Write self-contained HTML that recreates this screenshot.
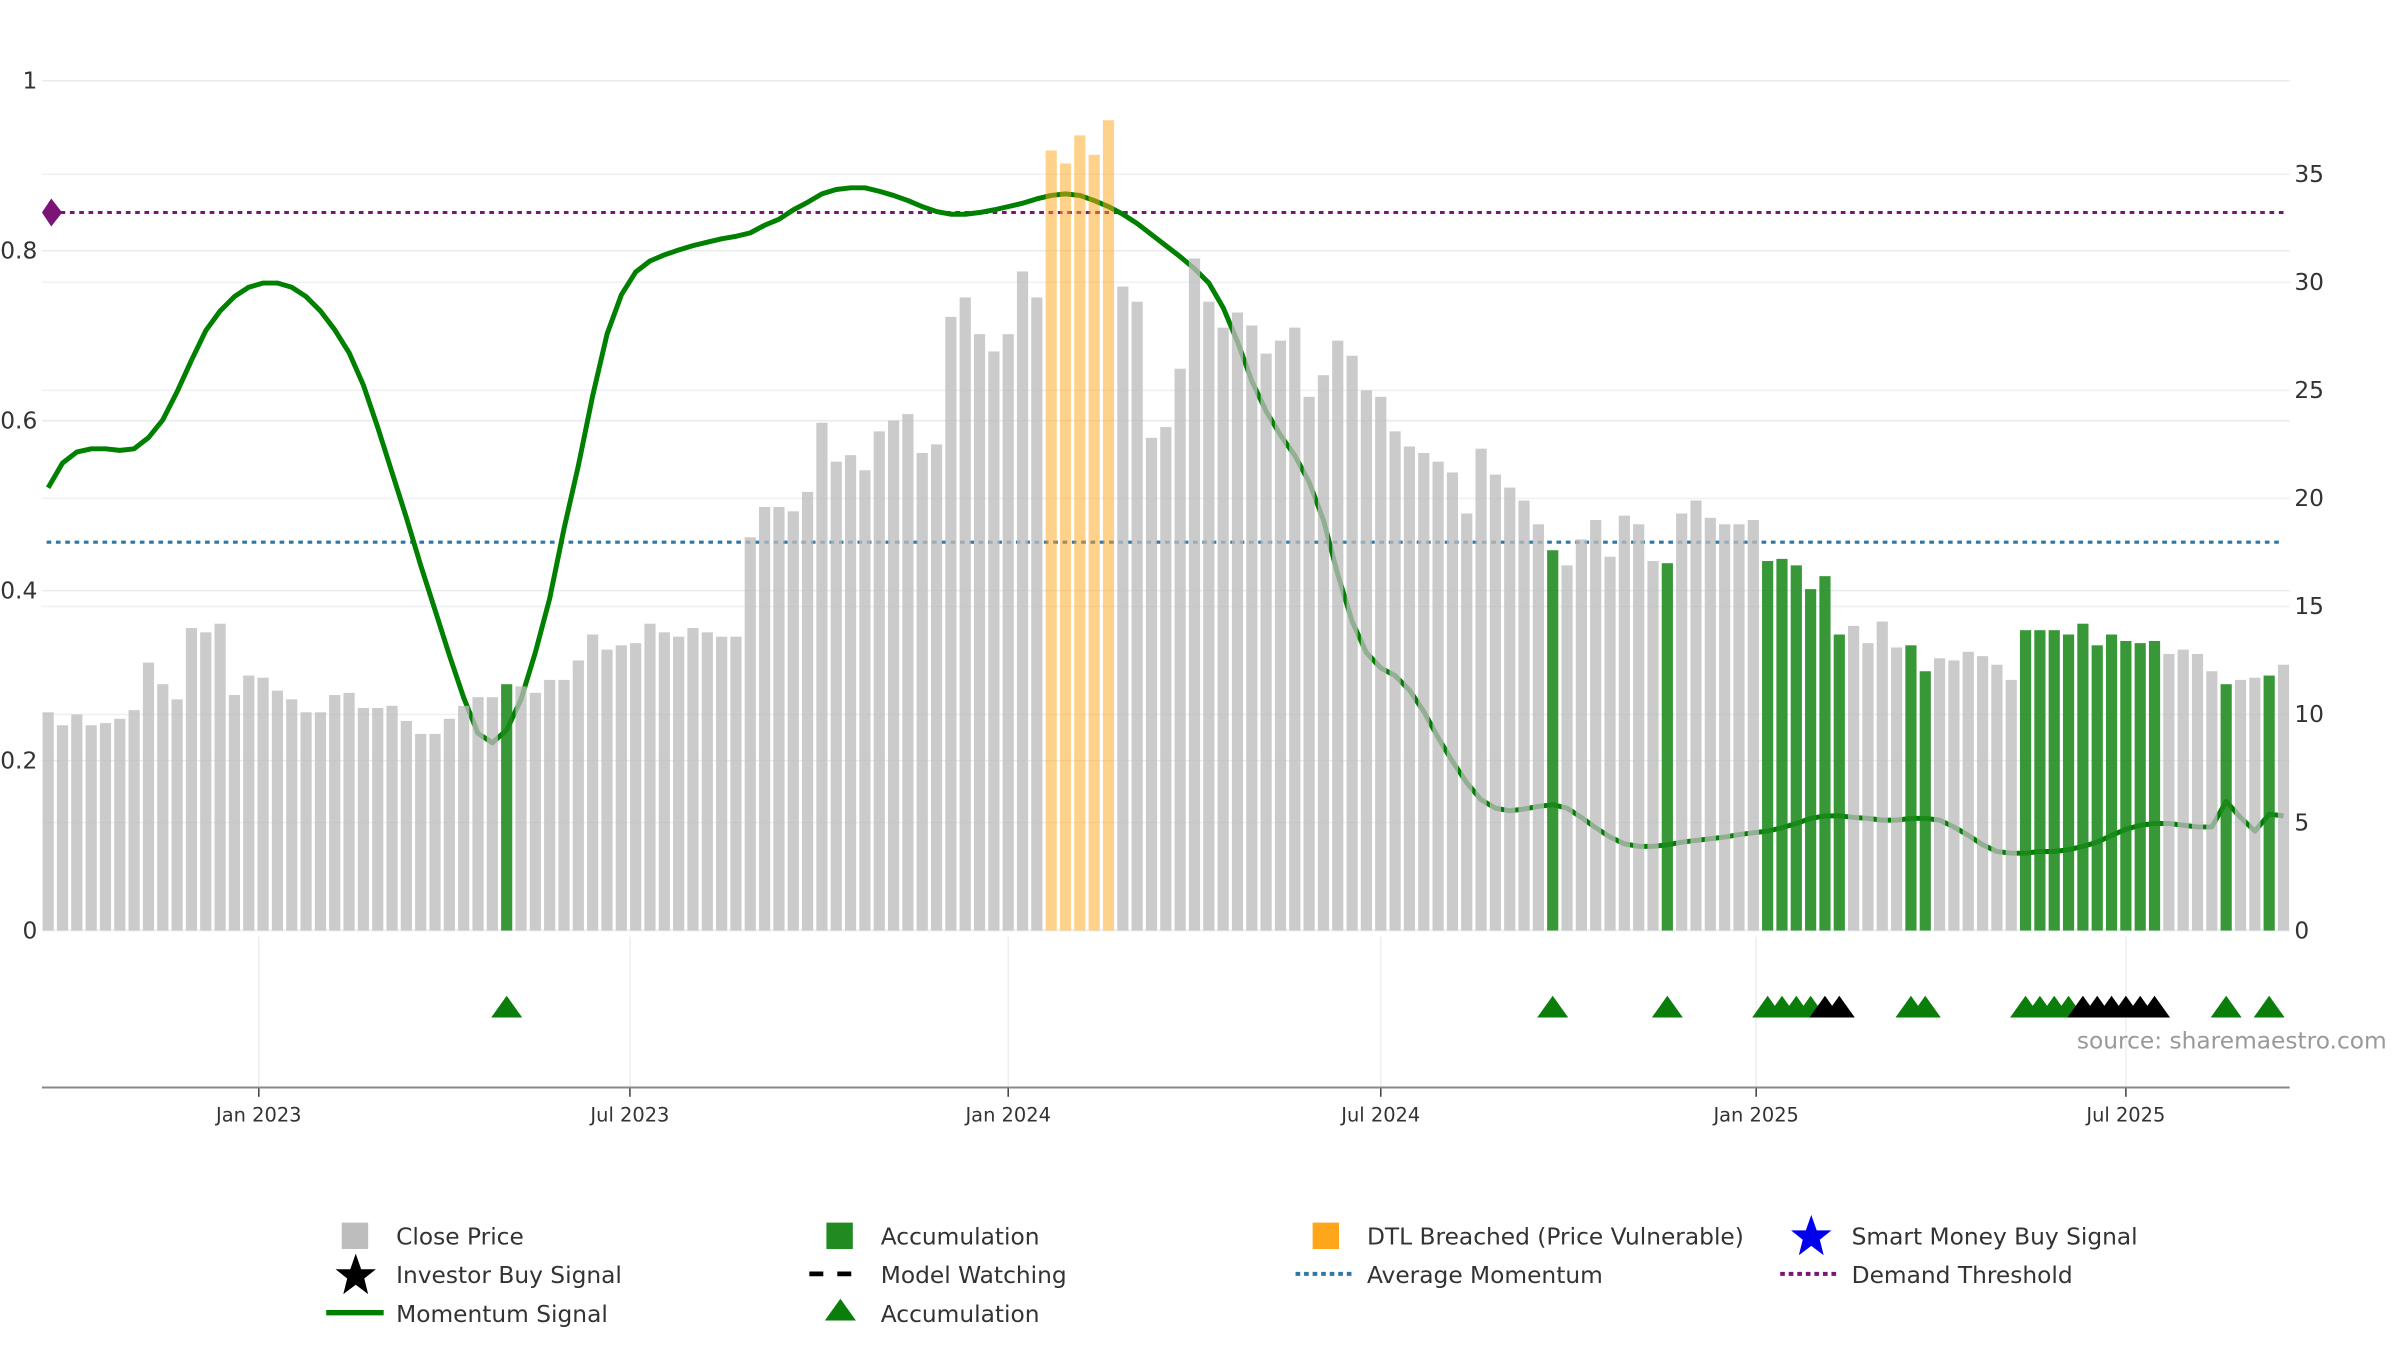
<!DOCTYPE html>
<html><head><meta charset="utf-8"><style>
html,body{margin:0;padding:0;background:#fff;}
svg{display:block;}
text{font-family:"DejaVu Sans","Liberation Sans",sans-serif;}
</style></head><body>
<svg id="chart" width="2400" height="1350" viewBox="0 0 1545 869" preserveAspectRatio="none" xmlns="http://www.w3.org/2000/svg">
<g id="grid"></g>
<g id="lines"></g>
<g id="momentum"></g>
<g id="bars"></g>
<g id="axes"></g>
<g id="signals"></g>
<text x="1337" y="675" font-size="15" fill="#999">source: sharemaestro.com</text>
<g id="legend" font-size="15" fill="#333">
  <g><rect x="220" y="787" width="17" height="17" fill="#bdbdbd"/><text x="255" y="801">Close Price</text></g>
  <g><rect x="532" y="787" width="17" height="17" fill="#218a21"/><text x="567" y="801">Accumulation</text></g>
  <g><rect x="845" y="787" width="17" height="17" fill="#ffa61a"/><text x="880" y="801">DTL Breached (Price Vulnerable)</text></g>
  <g><polygon points="1166,782 1169.5,792 1179,792 1171.5,798 1174,808 1166,802 1158,808 1160.5,798 1153,792 1162.5,792" fill="#0000ee"/><text x="1192" y="801">Smart Money Buy Signal</text></g>
  <g><polygon points="229,807 232.5,817 242,817 234.5,823 237,833 229,827 221,833 223.5,823 216,817 225.5,817" fill="#000"/><text x="255" y="826">Investor Buy Signal</text></g>
  <g><line x1="521" y1="820" x2="557" y2="820" stroke="#000" stroke-width="3" stroke-dasharray="9,9"/><text x="567" y="826">Model Watching</text></g>
  <g><line x1="834" y1="820" x2="870" y2="820" stroke="#2e78a8" stroke-width="2.5" stroke-dasharray="3,2.5"/><text x="880" y="826">Average Momentum</text></g>
  <g><line x1="1146" y1="820" x2="1182" y2="820" stroke="#7a1477" stroke-width="2.5" stroke-dasharray="3,2.5"/><text x="1192" y="826">Demand Threshold</text></g>
  <g><line x1="210" y1="845" x2="247" y2="845" stroke="#008000" stroke-width="3.5"/><text x="255" y="851">Momentum Signal</text></g>
  <g><polygon points="541,836 551,850 531,850" fill="#0a7d0a"/><text x="567" y="851">Accumulation</text></g>
</g>
</svg>
<script>
const prices=[10.1,9.5,10.0,9.5,9.6,9.8,10.2,12.4,11.4,10.7,14.0,13.8,14.2,10.9,11.8,11.7,11.1,10.7,10.1,10.1,10.9,11.0,10.3,10.3,10.4,9.7,9.1,9.1,9.8,10.4,10.8,10.8,11.4,11.3,11.0,11.6,11.6,12.5,13.7,13.0,13.2,13.3,
14.2,13.8,13.6,14.0,13.8,13.6,13.6,18.2,19.6,19.6,19.4,20.3,23.5,21.7,22.0,21.3,23.1,23.6,23.9,22.1,22.5,28.4,29.3,27.6,26.8,27.6,30.5,29.3,36.1,35.5,36.8,35.9,37.5,29.8,29.1,22.8,23.3,26.0,31.1,29.1,27.9,28.6,
28.0,26.7,27.3,27.9,24.7,25.7,27.3,26.6,25.0,24.7,23.1,22.4,22.1,21.7,21.2,19.3,22.3,21.1,20.5,19.9,18.8,17.6,16.9,18.1,19.0,17.3,19.2,18.8,17.1,17.0,19.3,19.9,19.1,18.8,18.8,19.0,17.1,17.2,16.9,15.8,16.4,
13.7,14.1,13.3,14.3,13.1,13.2,12.0,12.6,12.5,12.9,12.7,12.3,11.6,13.9,13.9,13.9,13.7,14.2,13.2,13.7,13.4,13.3,13.4,12.8,13.0,12.8,12.0,11.4,11.6,11.7,11.8,12.3];
const accumulationBars=[33,106,114,121,122,123,124,125,126,131,132,139,140,141,142,143,144,145,146,147,148,153,156];
const dtlBars=[71,72,73,74,75];
const accumulationMarkers=[33,106,114,121,122,123,124,131,132,139,140,141,142,153,156];
const investorBuyMarkers=[125,126,143,144,145,146,147,148];
const momentum=[.521,.550,.563,.567,.567,.565,.567,.580,.601,.634,.671,.706,.729,.746,.757,.762,.762,.757,.746,.729,.707,.680,.642,.592,.539,.486,.430,.377,.324,.274,.232,.221,.236,.272,.327,.391,.473,.547,.629,.702,.748,.775,.788,.795,.801,.806,.810,.814,.817,.821,.830,.837,.848,.857,.867,.872,.874,.874,.870,.865,.859,.852,.846,.843,.843,.845,.848,.852,.856,.861,.865,.867,.865,.859,.852,.843,.832,.819,.806,.793,.779,.762,.733,.693,.647,.611,.583,.559,.528,.483,.419,.364,.327,.309,.300,.283,.258,.227,.199,.174,.154,.144,.141,.143,.146,.148,.144,.133,.121,.110,.102,.099,.099,.101,.104,.106,.108,.110,.113,.115,.117,.121,.126,.132,.135,.135,.133,.132,.130,.130,.132,.132,.130,.122,.112,.101,.093,.091,.091,.093,.093,.095,.099,.104,.112,.119,.124,.126,.126,.124,.122,.122,.152,.133,.117,.137,.135];
const avgMomentum=0.457;
const demandThreshold=0.845;
const leftTicks=[0,0.2,0.4,0.6,0.8,1];
const leftTickLabels=["0","0.2","0.4","0.6","0.8","1"];
const rightTicks=[0,5,10,15,20,25,30,35];
const xTickPos=[14.7,40.6,67.0,93.0,119.2,145.0];
const xTickLabels=["Jan 2023","Jul 2023","Jan 2024","Jul 2024","Jan 2025","Jul 2025"];

const NS="http://www.w3.org/2000/svg";
const X0=31,X1=1470,PL=27,PR=1474;
const step=(X1-X0)/(prices.length-1);
function xB(i){return X0+i*step;}
function yL(v){return 599-547*v;}
function yR(v){return 599-13.91*v;}
function mk(tag,attrs,parent){const e=document.createElementNS(NS,tag);for(const k in attrs)e.setAttribute(k,attrs[k]);parent.appendChild(e);return e;}
const grid=document.getElementById('grid'),lines=document.getElementById('lines'),mom=document.getElementById('momentum'),bars=document.getElementById('bars'),axes=document.getElementById('axes'),sig=document.getElementById('signals');

leftTicks.forEach((t,i)=>{
  const l=mk('line',{x1:PL,x2:PR,y1:yL(t),y2:yL(t),stroke:'#e8ebf0','stroke-width':1},grid);
  
  
  const tx=mk('text',{x:24,y:yL(t)+5,'text-anchor':'end','font-size':15,fill:'#333'},axes);
  tx.textContent=leftTickLabels[i];
  
  
});
rightTicks.forEach(t=>{
  const l=mk('line',{x1:PL,x2:PR,y1:yR(t),y2:yR(t),stroke:'#eef0f4','stroke-width':1},grid);
  
  
  const tx=mk('text',{x:1477,y:yR(t)+5,'font-size':15,fill:'#333'},axes);
  tx.textContent=String(t);
  
  
});
xTickPos.forEach((p,i)=>{
  const x=X0+p*step;
  const g=mk('line',{x1:x,x2:x,y1:603,y2:700,stroke:'#eceef2','stroke-width':1},grid);
  
  
  const tk=mk('line',{x1:x,x2:x,y1:700,y2:706,stroke:'#444','stroke-width':1},axes);
  
  
  const tx=mk('text',{x:x,y:722,'text-anchor':'middle','font-size':12.5,fill:'#333'},axes);
  tx.textContent=xTickLabels[i];
  
  
});
const ax=mk('line',{x1:PL,x2:PR,y1:700,y2:700,stroke:'#888','stroke-width':1.3},axes);



const am=mk('line',{x1:PL+3,x2:PR-4,y1:yL(avgMomentum),y2:yL(avgMomentum),stroke:'#2e78a8','stroke-width':2,'stroke-dasharray':'3,3'},lines);


const dt=mk('line',{x1:PL+6,x2:PR-4,y1:yL(demandThreshold),y2:yL(demandThreshold),stroke:'#7a1477','stroke-width':2,'stroke-dasharray':'3,3'},lines);


const yd=yL(demandThreshold);
const dm=mk('polygon',{points:`${PL},${yd} ${PL+6},${yd-9} ${PL+13},${yd} ${PL+6},${yd+9}`,fill:'#7a1477'},lines);



const mstep=(X1-X0)/(momentum.length-1);
const pts=momentum.map((v,i)=>`${(X0+i*mstep).toFixed(1)},${yL(v).toFixed(1)}`).join(' ');
const ml=mk('polyline',{points:pts,fill:'none',stroke:'#008000','stroke-width':3.2,'stroke-linejoin':'round'},mom);



const bw=7.2;
prices.forEach((v,i)=>{
  const n=i+1;
  let fill='#bdbdbd',op=0.78,name='price-bar';
  if(accumulationBars.includes(n)){fill='#1c8a1c';op=0.88;name='accumulation-bar';}
  else if(dtlBars.includes(n)){fill='#ffa61a';op=0.5;name='dtl-breached-bar';}
  const r=mk('rect',{x:xB(i)-bw/2,y:yR(v),width:bw,height:599-yR(v),fill:fill,'fill-opacity':op},bars);
  
  
});

function tri(n,color,name){
  const x=xB(n-1),y=648;
  const t=mk('polygon',{points:`${x},${y-7} ${x+10},${y+7} ${x-10},${y+7}`,fill:color},sig);
  
  
}
accumulationMarkers.forEach(n=>tri(n,'#0a7d0a','accumulation-marker'));
investorBuyMarkers.forEach(n=>tri(n,'#000','investor-buy-marker'));
</script>
</body></html>
